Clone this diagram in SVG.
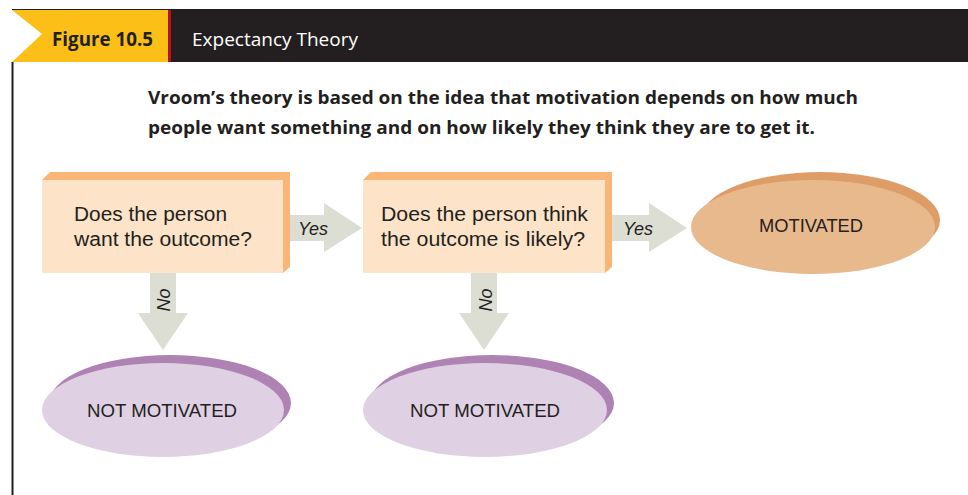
<svg xmlns="http://www.w3.org/2000/svg" width="968" height="495" viewBox="0 0 968 495">
<style>
  .q { font-family: "Liberation Sans", Arial, sans-serif; font-size: 20px; fill: #231F20; }
  .lbl { font-family: "Liberation Sans", Arial, sans-serif; font-size: 18px; font-style: italic; fill: #231F20; }
  .ell { font-family: "Liberation Sans", Arial, sans-serif; font-size: 19px; fill: #231F20; text-anchor: middle; }
  .sub { font-family: "Open Sans", "Liberation Sans", sans-serif; font-size: 18px; font-weight: bold; fill: #231F20; }
  .face { fill: #FDE3C8; }
  .bevel { fill: #FBB677; }
  .arrow { fill: #DCDDD3; }
  .mback { fill: #DE9C66; }
  .mfront { fill: #E9B98E; }
  .nback { fill: #AE82B2; }
  .nfront { fill: #E0D0E3; }
</style>
<rect width="968" height="495" fill="#FFFFFF"/>
<g id="header">
  <rect x="160" y="9" width="808" height="53" fill="#231F20"/>
  <line x1="12" y1="9.5" x2="168" y2="9.5" stroke="#231F20" stroke-width="1"/>
  <polygon points="12,10 168,10 168,62 12,62 42,34" fill="#FCBF17"/>
  <rect x="168" y="10" width="3" height="52" fill="#B5121B"/>
  <line x1="12.5" y1="62" x2="12.5" y2="495" stroke="#231F20" stroke-width="2"/>
  <text x="52" y="46" font-family="'Open Sans', 'Liberation Sans', sans-serif" font-size="19" font-weight="bold" fill="#231F20" textLength="101" lengthAdjust="spacingAndGlyphs">Figure 10.5</text>
  <text x="192" y="46" font-family="'Open Sans', 'Liberation Sans', sans-serif" font-size="19" fill="#FFFFFF" textLength="166" lengthAdjust="spacingAndGlyphs">Expectancy Theory</text>
</g>
<g id="subtitle">
  <text class="sub" x="148" y="104" textLength="710" lengthAdjust="spacingAndGlyphs">Vroom’s theory is based on the idea that motivation depends on how much</text>
  <text class="sub" x="148" y="134" textLength="667" lengthAdjust="spacingAndGlyphs">people want something and on how likely they think they are to get it.</text>
</g>
<g id="connectors">
  <polygon class="arrow" points="288,215 324,215 324,203 362,228 324,252 324,241 288,241"/>
  <text class="lbl" x="298" y="235" textLength="30">Yes</text>
  <polygon class="arrow" points="610,215 649,215 649,203 687,228 649,252 649,241 610,241"/>
  <text class="lbl" x="623" y="235" textLength="30">Yes</text>
  <polygon class="arrow" points="150,272 176,272 176,313 188,313 163,350 138,313 150,313"/>
  <text class="lbl" transform="translate(170,300) rotate(-90)" text-anchor="middle" font-size="19">No</text>
  <polygon class="arrow" points="471,272 497,272 497,313 509,313 484,350 459,313 471,313"/>
  <text class="lbl" transform="translate(492,300) rotate(-90)" text-anchor="middle" font-size="19">No</text>
</g>
<g id="q1">
  <polygon class="bevel" points="42,180 50,172 290,172 290,267 283,273 42,273"/>
  <rect class="face" x="42" y="180" width="241" height="93"/>
  <text class="q" x="74" y="221" textLength="153" lengthAdjust="spacingAndGlyphs">Does the person</text>
  <text class="q" x="74" y="246" textLength="178" lengthAdjust="spacingAndGlyphs">want the outcome?</text>
</g>
<g id="q2">
  <polygon class="bevel" points="363,180 371,172 612,172 612,267 605,273 363,273"/>
  <rect class="face" x="363" y="180" width="242" height="93"/>
  <text class="q" x="381" y="221" textLength="207" lengthAdjust="spacingAndGlyphs">Does the person think</text>
  <text class="q" x="381" y="246" textLength="204" lengthAdjust="spacingAndGlyphs">the outcome is likely?</text>
</g>
<g id="motivated">
  <ellipse class="mback" cx="820" cy="220" rx="120" ry="48"/>
  <ellipse class="mfront" cx="813" cy="227" rx="122" ry="47"/>
  <text class="ell" x="811" y="232" textLength="104" lengthAdjust="spacingAndGlyphs">MOTIVATED</text>
</g>
<g id="not-motivated-1">
  <ellipse class="nback" cx="170" cy="403" rx="121" ry="48"/>
  <ellipse class="nfront" cx="163" cy="410" rx="121" ry="47"/>
  <text class="ell" x="162" y="417" textLength="150" lengthAdjust="spacingAndGlyphs">NOT MOTIVATED</text>
</g>
<g id="not-motivated-2">
  <ellipse class="nback" cx="492" cy="403" rx="122" ry="48"/>
  <ellipse class="nfront" cx="485" cy="410" rx="122" ry="47"/>
  <text class="ell" x="485" y="417" textLength="150" lengthAdjust="spacingAndGlyphs">NOT MOTIVATED</text>
</g>
</svg>
